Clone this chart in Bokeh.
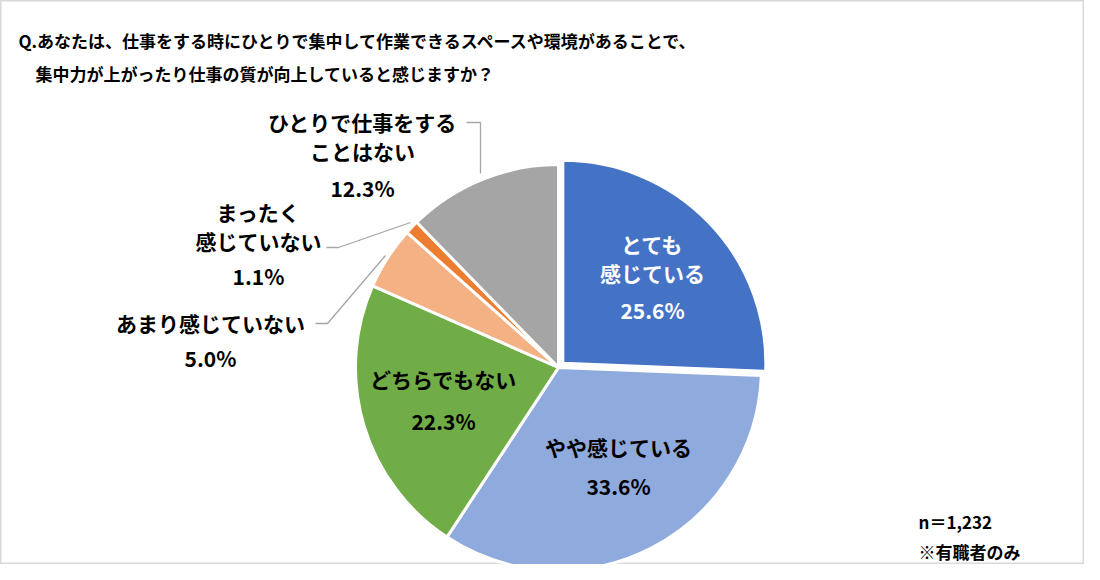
import math
from bokeh.plotting import figure
from bokeh.models import Range1d
from bokeh.core.properties import value
from bokeh.embed import file_html
from bokeh.resources import INLINE

# ---- data ----
categories = ["とても感じている", "やや感じている", "どちらでもない",
              "あまり感じていない", "まったく感じていない", "ひとりで仕事をすることはない"]
percents = [25.6, 33.6, 22.3, 5.0, 1.1, 12.3]
colors = ["#4472C4", "#8FAADC", "#70AD47", "#F4B183", "#ED7D31", "#A5A5A5"]
label_lines = [["とても", "感じている"], ["やや感じている"], ["どちらでもない"],
               ["あまり感じていない"], ["まったく", "感じていない"], ["ひとりで仕事をする", "ことはない"]]
title_lines = ["Q.あなたは、仕事をする時にひとりで集中して作業できるスペースや環境があることで、",
               "　集中力が上がったり仕事の質が向上していると感じますか？"]
note_lines = ["n＝1,232", "※有職者のみ"]

# ---- layout (screen pixels in the 1100x580 photo) ----
W, H = 1084, 564
FONT = value("Noto Sans CJK JP")
def Y(sy):
    return 580 - sy

cx, cy, R = 558, 367, 203
explode = [6, 0, 0, 0, 0, 0]
# label anchor: (x, y of first line, line spacing, percent y, color)
label_pos = [(652, 243, 29, 309, "white"),
             (618, 446, 0, 485, "black"),
             (443, 378, 0, 420, "black"),
             (210, 322, 0, 357, "black"),
             (258, 211, 29, 275, "black"),
             (362, 121, 29, 187, "black")]
leaders = {5: [(466, 122), (480, 122), (480, 173)],
           4: [(326, 247), (338, 247), (410, 222)],
           3: [(315, 323), (327, 323), (385, 255)]}

p = figure(width=W, height=H, x_range=Range1d(0, W), y_range=Range1d(580 - H, 580),
           output_backend="svg", toolbar_location=None, min_border=0)
p.axis.visible = False
p.grid.visible = False
p.outline_line_color = "#D9D9D9"
p.outline_line_width = 2
p.background_fill_color = "white"
p.border_fill_color = "white"

total = sum(percents)
cum = 0.0
for i, v in enumerate(percents):
    f0 = cum / total
    cum += v
    f1 = cum / total
    start = math.pi / 2 - 2 * math.pi * f1
    end = math.pi / 2 - 2 * math.pi * f0
    mid = (start + end) / 2
    ox = cx + explode[i] * math.cos(mid)
    oy = Y(cy) + explode[i] * math.sin(mid)
    p.wedge(x=[ox], y=[oy], radius=R, start_angle=[start], end_angle=[end],
            fill_color=colors[i], line_color="white", line_width=3)

for i, pts in leaders.items():
    p.line(x=[q[0] for q in pts], y=[Y(q[1]) for q in pts], line_color="#A6A6A6", line_width=1.3)

for i, lines in enumerate(label_lines):
    x, y0, dy, py, col = label_pos[i]
    xs = [x] * (len(lines) + 1)
    ys = [Y(y0 + k * dy) for k in range(len(lines))] + [Y(py)]
    texts = lines + [f"{percents[i]:.1f}%"]
    p.text(x=xs, y=ys, text=texts, text_font=FONT, text_font_style="bold",
           text_font_size="21px", text_color=col, text_align="center", text_baseline="middle")

p.text(x=[18, 18], y=[Y(40), Y(73)], text=title_lines, text_font=FONT, text_font_style="bold",
       text_font_size="17px", text_color="black", text_align="left", text_baseline="middle")
p.text(x=[918, 918], y=[Y(521), Y(551)], text=note_lines, text_font=FONT, text_font_style="bold",
       text_font_size="17px", text_color="black", text_align="left", text_baseline="middle")

open("out.html", "w").write(file_html(p, INLINE))
